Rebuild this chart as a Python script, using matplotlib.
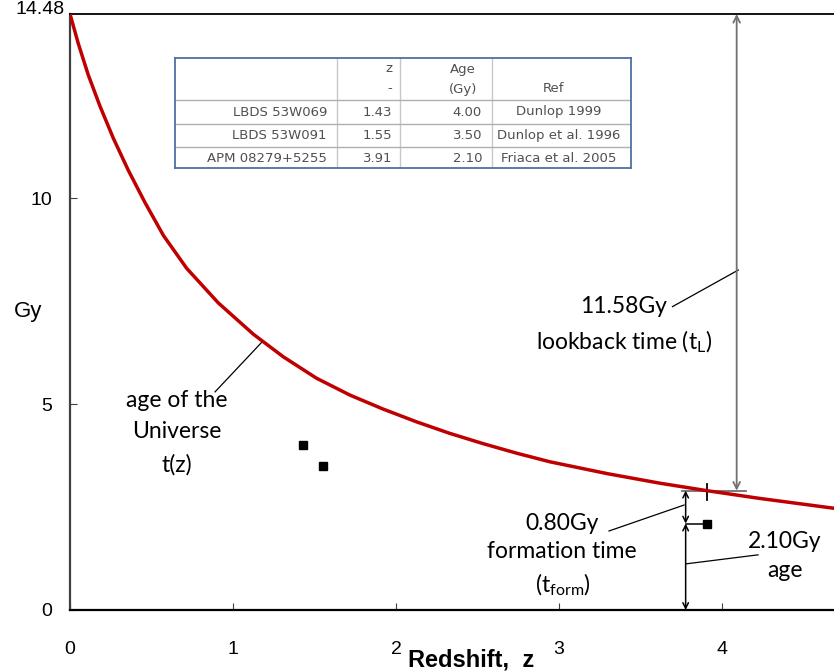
import numpy as np
import matplotlib
matplotlib.use('Agg')
import matplotlib.pyplot as plt

plt.rcParams['mathtext.default'] = 'regular'

# age of the Universe t(z)
curve_z = [0.0, 0.051, 0.112, 0.184, 0.266, 0.358, 0.460, 0.573, 0.716, 0.910,
           1.125, 1.309, 1.513, 1.718, 1.922, 2.127, 2.331, 2.536, 2.740, 2.945,
           3.30, 3.62, 3.906, 4.233, 4.69]
curve_t = [14.48, 13.76, 13.00, 12.24, 11.46, 10.68, 9.90, 9.10, 8.30, 7.46,
           6.70, 6.15, 5.63, 5.22, 4.88, 4.57, 4.29, 4.04, 3.81, 3.60,
           3.31, 3.08, 2.90, 2.71, 2.47]

# galaxies
gal_names = ['LBDS 53W069', 'LBDS 53W091', 'APM 08279+5255']
gal_z = [1.43, 1.55, 3.91]
gal_age = [4.00, 3.50, 2.10]
gal_ref = ['Dunlop 1999', 'Dunlop et al. 1996', 'Friaca et al. 2005']

t0 = 14.48
t_at_apm = 2.90        # t(z) at z = 3.91
z_lookback = 4.09      # where the lookback arrow is drawn
z_form = 3.777         # where the formation/age arrows are drawn

W, H = 834, 672
fig = plt.figure(figsize=(W / 100, H / 100), dpi=100)
ax = fig.add_axes([70 / W, 62 / H, (W - 70) / W, 596 / H])
ax.set_xlim(0, (W - 70) / 163.0)
ax.set_ylim(0, t0)

ax.plot(curve_z, curve_t, color='#C00000', lw=2.5, zorder=3,
        solid_joinstyle='round')
ax.plot(gal_z, gal_age, 's', color='black', ms=5.5, zorder=4)

# axes styling
ax.spines['right'].set_visible(False)
ax.spines['top'].set_linewidth(1.3)
ax.spines['bottom'].set_linewidth(1.6)
ax.spines['left'].set_linewidth(1.6)
ax.spines['left'].set_color('#404040')
ax.set_xticks([0, 1, 2, 3, 4])
ax.set_yticks([0, 5, 10])
ax.tick_params(axis='x', direction='in', length=5, pad=22, labelsize=14,
               color='#404040')
ax.tick_params(axis='y', direction='in', length=5, pad=13, labelsize=14,
               color='#404040')
for lab in ax.get_xticklabels() + ax.get_yticklabels():
    lab.set_fontfamily('Liberation Sans')
ax.text(-0.03, t0 + 0.1, f'{t0:.2f}', ha='right', va='center',
        fontsize=14, family='Liberation Sans')
ax.text(-0.26, 7.24, 'Gy', ha='center', va='center', fontsize=16,
        family='Liberation Sans')
ax.text(2.46, -1.22, 'Redshift,  z', ha='center', va='center', fontsize=17,
        family='Liberation Sans', fontweight='bold')

# lookback time arrow
ax.annotate('', xy=(z_lookback, t0), xytext=(z_lookback, t_at_apm),
            arrowprops=dict(arrowstyle='<->', color='#707070', lw=1.3,
                            mutation_scale=12, shrinkA=0, shrinkB=0))
ax.plot([3.753, 4.15], [t_at_apm, t_at_apm], color='#707070', lw=1.3)
ax.plot([gal_z[2], gal_z[2]], [2.67, 3.06], color='black', lw=1.3)

# formation time and age arrows
ax.annotate('', xy=(z_form, t_at_apm), xytext=(z_form, gal_age[2]),
            arrowprops=dict(arrowstyle='<->', color='black', lw=1.1,
                            mutation_scale=10, shrinkA=0, shrinkB=0))
ax.annotate('', xy=(z_form, gal_age[2]), xytext=(z_form, 0),
            arrowprops=dict(arrowstyle='<->', color='black', lw=1.1,
                            mutation_scale=10, shrinkA=0, shrinkB=0))
ax.plot([z_form, gal_z[2]], [gal_age[2], gal_age[2]], color='black', lw=1.1)

# leader lines
leaders = [([3.696, 4.10], [7.37, 8.26]),
           ([3.307, 3.767], [1.92, 2.55]),
           ([4.221, 3.777], [1.34, 1.12]),
           ([0.890, 1.180], [5.30, 6.52])]
for lx, ly in leaders:
    ax.plot(lx, ly, color='black', lw=0.9)

lookback = t0 - t_at_apm
formation = t_at_apm - gal_age[2]
notes = [(3.393, 7.37, f'{lookback:.2f}Gy'),
         (3.399, 6.52, r'lookback time (t$_{L}$)'),
         (3.017, 2.11, f'{formation:.2f}Gy'),
         (3.020, 1.41, 'formation time'),
         (3.025, 0.61, r'(t$_{form}$)'),
         (4.387, 1.66, f'{gal_age[2]:.2f}Gy'),
         (4.387, 0.97, 'age'),
         (0.655, 5.10, 'age of the'),
         (0.655, 4.33, 'Universe'),
         (0.655, 3.52, 't(z)')]
for nx, ny, s in notes:
    ax.text(nx, ny, s, ha='center', va='center', fontsize=16.5, family='Lato')

# data table (inset)
tx0, ty0, tx1, ty1 = 175, 58, 631, 168
tab = fig.add_axes([tx0 / W, 1 - ty1 / H, (tx1 - tx0) / W, (ty1 - ty0) / H])
tab.set_xlim(tx0, tx1)
tab.set_ylim(ty1, ty0)
tab.set_xticks([])
tab.set_yticks([])
for sp in tab.spines.values():
    sp.set_color('#4F6FA8')
    sp.set_linewidth(1.3)
col_edges = [336.7, 400, 491.7]
row_edges = [100, 123.5, 147.3]
for cx in col_edges:
    tab.plot([cx, cx], [ty0, ty1], color='#c8c8c8', lw=1.0)
for ry in row_edges:
    tab.plot([tx0, tx1], [ry, ry], color='#b0b0b0', lw=1.0)
tcol = '#505050'
tfs = 9.5
tab.text(392, 69, 'z', ha='right', va='center', fontsize=tfs, color=tcol)
tab.text(392, 89, '-', ha='right', va='center', fontsize=tfs, color=tcol)
tab.text(463, 69, 'Age', ha='center', va='center', fontsize=tfs, color=tcol)
tab.text(463, 89, '(Gy)', ha='center', va='center', fontsize=tfs, color=tcol)
tab.text(553, 89, 'Ref', ha='center', va='center', fontsize=tfs, color=tcol)
row_mid = [112, 135.5, 158]
for i in range(len(gal_names)):
    y = row_mid[i]
    tab.text(327, y, gal_names[i], ha='right', va='center', fontsize=tfs, color=tcol)
    tab.text(392, y, f'{gal_z[i]:.2f}', ha='right', va='center', fontsize=tfs, color=tcol)
    tab.text(482, y, f'{gal_age[i]:.2f}', ha='right', va='center', fontsize=tfs, color=tcol)
    tab.text(559, y, gal_ref[i], ha='center', va='center', fontsize=tfs, color=tcol)

fig.savefig('out.png', dpi=100)
